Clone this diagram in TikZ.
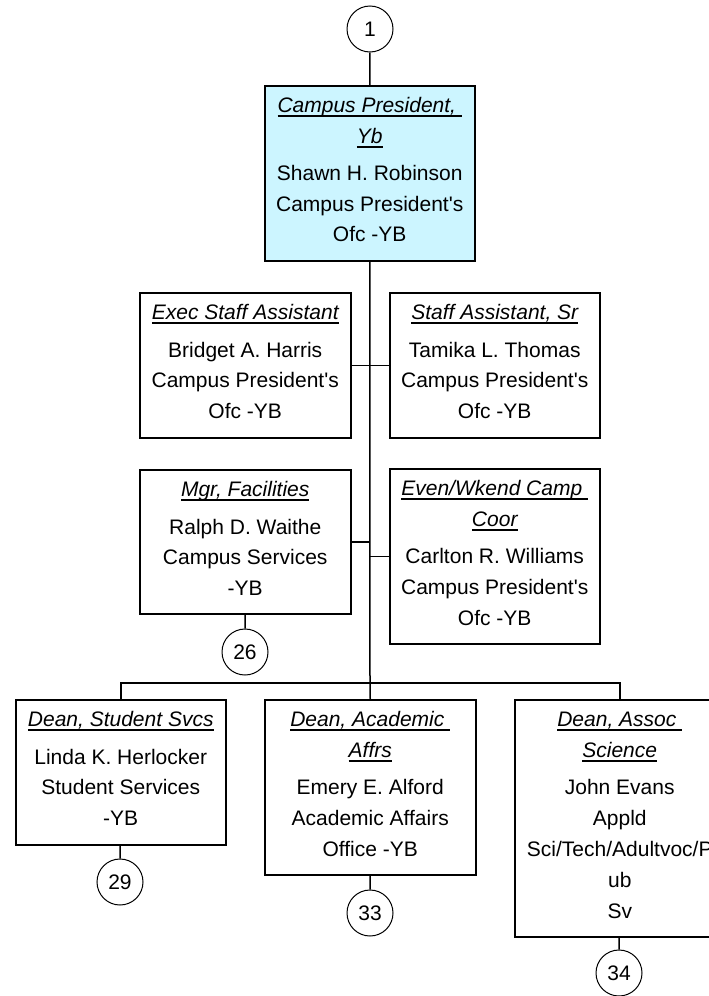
\documentclass[tikz,border=0pt]{standalone}
\usepackage{fontspec}
\setmainfont{Liberation Sans}
\definecolor{presfill}{RGB}{204,245,255}
\newcommand{\ttl}[1]{\leavevmode\setbox0\hbox{\itshape #1}\rlap{\rule[-4pt]{\wd0}{1.4pt}}\box0}
\newcommand{\card}[3]{\parbox[c][#2][t]{#1}{\centering\fontsize{21}{30.8}\selectfont\rule{0pt}{27pt}#3}}
\newcommand{\cpo}{Campus President\textquotesingle s}
\tikzset{
  posbox/.style={draw, line width=1.5pt, inner sep=0pt, anchor=north west},
  circ/.style={draw, circle, line width=1pt, minimum size=46pt, inner sep=0pt, font=\fontsize{21}{24}\selectfont},
  conn/.style={line width=1.5pt}
}

\begin{document}
\begin{tikzpicture}[x=1pt, y=-1pt]
    \clip (0,0) rectangle (709,996);
    \fill[white] (0,0) rectangle (709,996);
    \node[circ] (c1) at (370,29) {1};
    \node[posbox, fill=presfill] (pres) at (264,85) {\card{210pt}{175pt}{\ttl{Campus President,\ }\\ \ttl{Yb}\\[6pt] Shawn H. Robinson\\ \cpo\\ Ofc -YB}};
    \node[posbox] (exec) at (139,292) {\card{211pt}{145pt}{\ttl{Exec Staff Assistant}\\[6.5pt] Bridget A. Harris\\ \cpo\\ Ofc -YB}};
    \node[posbox] (staffsr) at (389,292) {\card{210pt}{145pt}{\ttl{Staff Assistant, Sr}\\[6.5pt] Tamika L. Thomas\\ \cpo\\ Ofc -YB}};
    \node[posbox] (mgr) at (139,469) {\card{211pt}{144pt}{\ttl{Mgr, Facilities}\\[6.5pt] Ralph D. Waithe\\ Campus Services\\ -YB}};
    \node[posbox] (even) at (389,468) {\card{210pt}{175pt}{\ttl{Even/Wkend Camp\ }\\ \ttl{Coor}\\[6.5pt] Carlton R. Williams\\ \cpo\\ Ofc -YB}};
    \node[circ] (c26) at (245,652) {26};
    \node[posbox] (deanss) at (15,699) {\card{210pt}{145pt}{\ttl{Dean, Student Svcs}\\[6.5pt] Linda K. Herlocker\\ Student Services\\ -YB}};
    \node[posbox] (deanaa) at (264,699) {\card{211pt}{175pt}{\ttl{Dean, Academic\ }\\ \ttl{Affrs}\\[6.5pt] Emery E. Alford\\ Academic Affairs\\ Office -YB}};
    \node[posbox] (deanas) at (514,699) {\card{210pt}{237pt}{\ttl{Dean, Assoc\ }\\ \ttl{Science}\\[6.5pt] John Evans\\ Appld\\ Sci/Tech/Adultvoc/P\\ ub\\ Sv}};
    \node[circ] (c29) at (120,882) {29};
    \node[circ] (c33) at (370,913) {33};
    \node[circ] (c34) at (619,973) {34};
    \coordinate (hub) at (370,683);
    \draw[conn] (c1) -- (pres);
    \draw[conn] (pres.south) -- (hub);
    \draw[conn] (exec.east) -- (exec.east -| hub);
    \draw[conn] (staffsr.west) -- (staffsr.west -| hub);
    \draw[conn] (mgr.east) -- (mgr.east -| hub);
    \draw[conn] (even.west) -- (even.west -| hub);
    \draw[conn] (mgr) -- (c26);
    \draw[conn] (deanss.north) |- (deanas.north |- hub) -- (deanas.north);
    \draw[conn] (hub) -- (deanaa.north);
    \draw[conn] (deanss) -- (c29);
    \draw[conn] (deanaa) -- (c33);
    \draw[conn] (deanas) -- (c34);
\end{tikzpicture}
\end{document}
